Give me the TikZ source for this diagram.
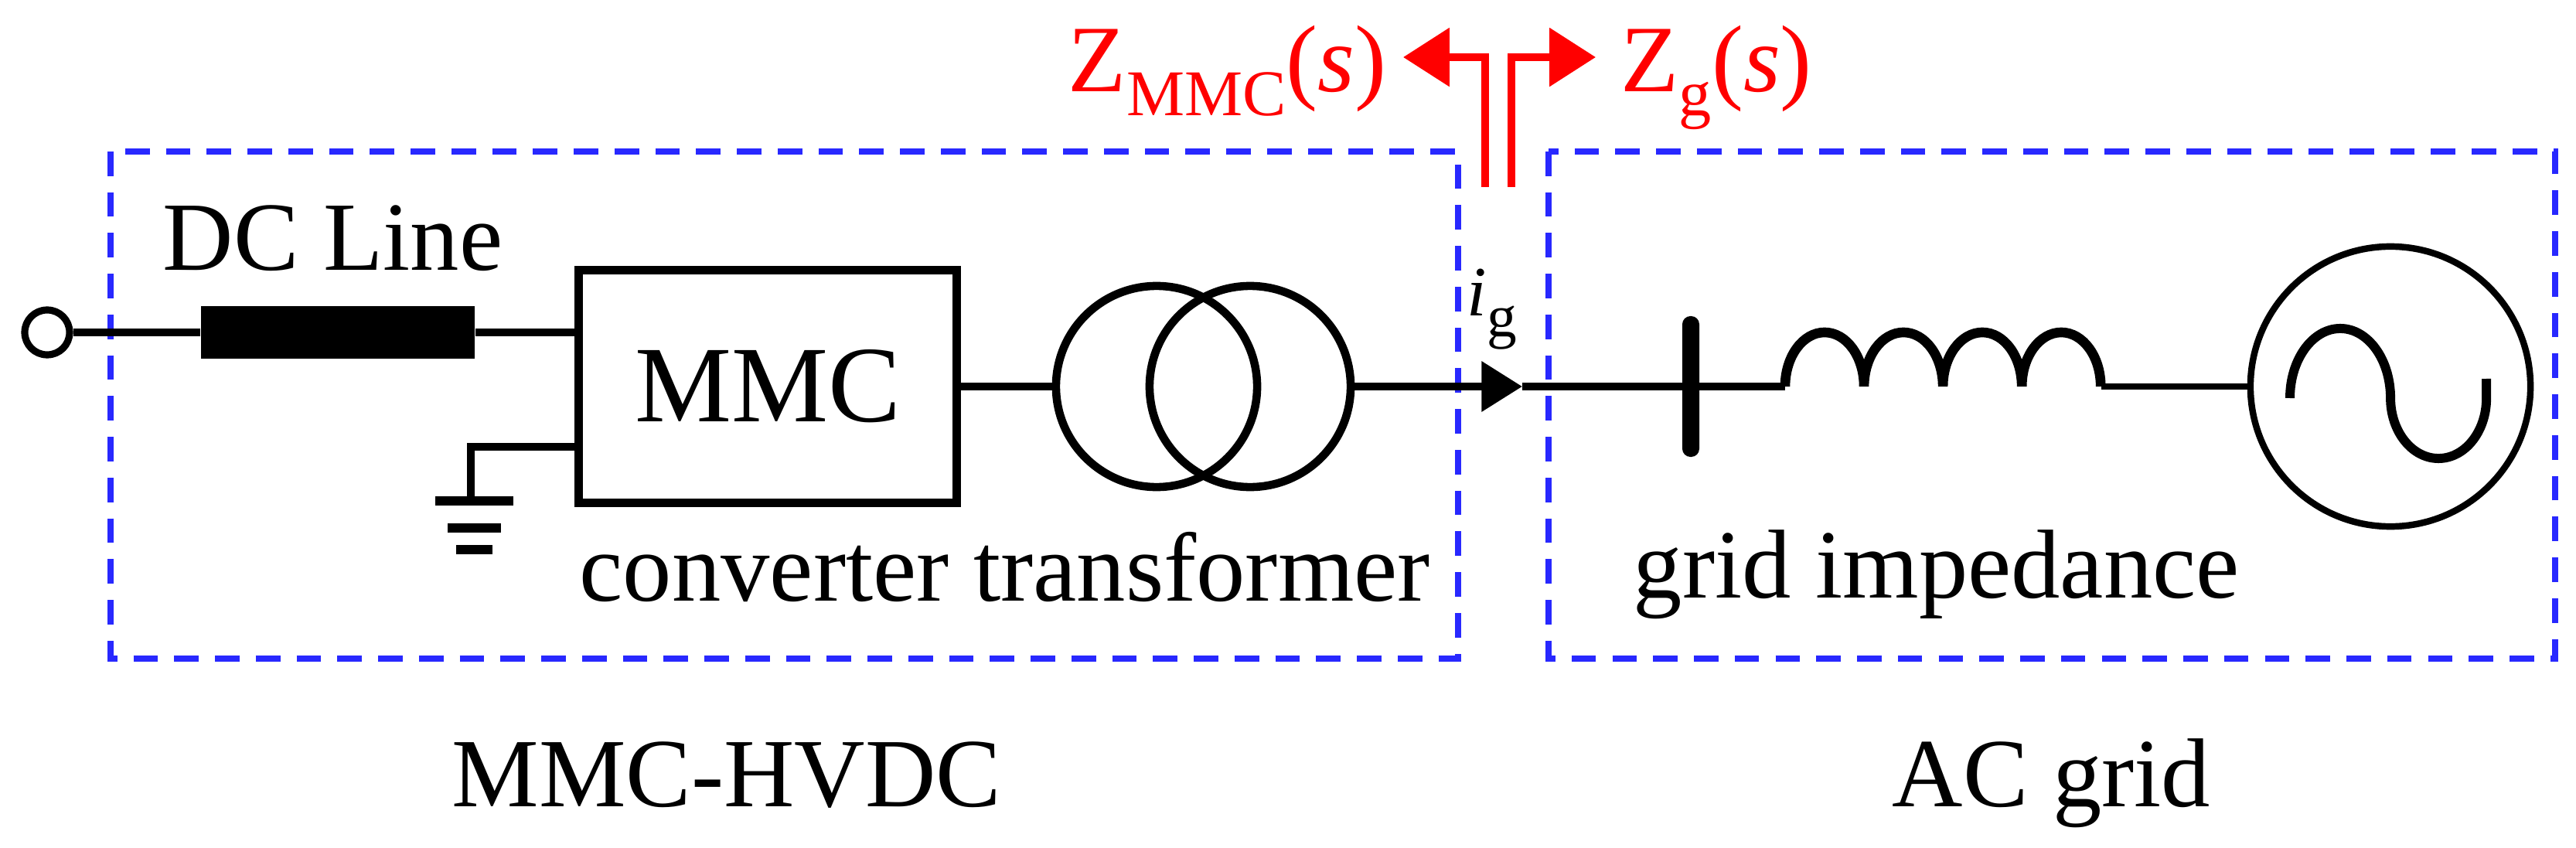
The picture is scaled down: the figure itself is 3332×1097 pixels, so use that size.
\documentclass[tikz,border=0pt]{standalone}
\usepackage{fontspec}
\setmainfont{Liberation Serif}
\usetikzlibrary{arrows.meta}
\begin{document}
\begin{tikzpicture}[x=0.01cm,y=-0.01cm,
 wire/.style={line width=2.8pt},
 grp/.style={draw={rgb,255:red,40;green,40;blue,255}, line width=2.2pt, dash pattern=on 9pt off 6pt},
 lbl/.style={font=\fontsize{36}{40}\selectfont, inner sep=0pt},
 zlbl/.style={font=\fontsize{35}{40}\selectfont, inner sep=0pt, text=red},
 redarrow/.style={draw=red, line width=2.8pt, -{Triangle[length=17pt,width=21pt]}}]
\useasboundingbox (0,0) rectangle (3332,1097);
% groups
\draw[grp] (143,196) rectangle (1886,852);
\draw[grp] (2003,196) rectangle (3305,852);
% DC side
\node[circle, draw, line width=2.6pt, minimum size=0.58cm, inner sep=0pt] (term) at (61,430) {};
\node[fill, minimum width=3.54cm, minimum height=0.68cm, inner sep=0pt] (dcl) at (437,430) {};
\node[draw, line width=3pt, minimum width=4.89cm, minimum height=3.01cm, inner sep=0pt, font=\fontsize{40}{44}\selectfont] (mmc) at (993,500) {MMC};
\draw[wire] (term.east) -- (dcl.west);
\draw[wire] (dcl.east) -- (dcl.east -| mmc.west);
\coordinate (g0) at (609,648);
\draw[wire] (mmc.west |- g0) ++(0,-70) -- (609,578) -- (g0);
\draw[line width=3.2pt] (563,648) -- (664,648) (579,683) -- (648,683) (590,711) -- (637,711);
\node[lbl, anchor=base west] (dctext) at (210,350) {DC Line};
% transformer
\node[circle, draw, line width=3pt, minimum size=2.6cm, inner sep=0pt] (t1) at (1496,500) {};
\node[circle, draw, line width=3pt, minimum size=2.6cm, inner sep=0pt] (t2) at (1617,500) {};
\draw[wire] (mmc.east) -- (t1.west);
\node[lbl, anchor=base west] (cttext) at (749,777) {converter transformer};
% current arrow and bus
\node[fill, rounded corners=3pt, minimum width=0.22cm, minimum height=1.82cm, inner sep=0pt] (bus) at (2187,500) {};
\coordinate (ah) at (1969,500);
\draw[wire, -{Triangle[length=15pt,width=18pt]}] (t2.east) -- (ah);
\draw[wire] (ah) -- (bus.center);
\node[inner sep=0pt, font=\fontsize{26}{30}\selectfont] (ig) at (1930,400) {\textit{i}\lower 0.3em\hbox{\fontsize{22}{24}\selectfont g}};
% inductor
\coordinate (L1) at (2309,500);
\coordinate (L2) at (2718,500);
\draw[wire] (bus.center) -- (L1);
\draw[line width=3.6pt] (L1) arc[start angle=180,end angle=0,x radius=0.51cm,y radius=0.7cm]
  arc[start angle=180,end angle=0,x radius=0.51cm,y radius=0.7cm]
  arc[start angle=180,end angle=0,x radius=0.51cm,y radius=0.7cm]
  arc[start angle=180,end angle=0,x radius=0.51cm,y radius=0.7cm];
\node[lbl, anchor=base west] (gitext) at (2112,773) {grid impedance};
% source
\node[circle, draw, line width=2.4pt, minimum size=3.62cm, inner sep=0pt] (src) at (3092,500) {};
\draw[line width=2.5pt] (L2) -- (src.west);
\draw[line width=3.4pt] (2962,515) arc[start angle=180,end angle=0,x radius=0.65cm,y radius=0.9cm]
  arc[start angle=180,end angle=360,x radius=0.62cm,y radius=0.78cm] -- (3216,490);
% red arrows
\coordinate (rl) at (1921,242);
\coordinate (rr) at (1955,242);
\coordinate (rlt) at (1815,74);
\coordinate (rrt) at (2064,74);
\draw[redarrow] (rl) |- (rlt);
\draw[redarrow] (rr) |- (rrt);
\node[zlbl, anchor=base east] (zmmc) at (1794,119) {Z\lower 0.25em\hbox{\fontsize{24}{26}\selectfont MMC}(\textit{s})};
\node[zlbl, anchor=base west] (zg) at (2096,119) {Z\lower 0.25em\hbox{\fontsize{24}{26}\selectfont g}(\textit{s})};
% bottom labels
\node[lbl, anchor=base west] (hvdc) at (584,1043) {MMC-HVDC};
\node[lbl, anchor=base west] (acg) at (2447,1043) {AC grid};
\end{tikzpicture}
\end{document}
